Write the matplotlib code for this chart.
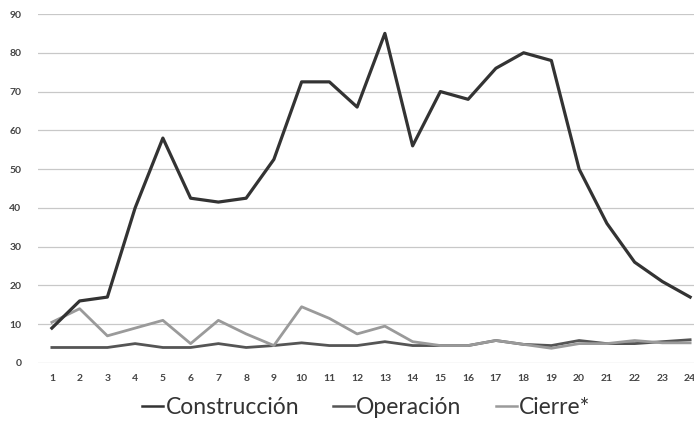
import numpy as np
import matplotlib
matplotlib.use("Agg")
import matplotlib.pyplot as plt

# Data
periodos = list(range(1, 25))
construccion = [9, 16, 17, 40, 58, 42.5, 41.5, 42.5, 52.5, 72.5, 72.5, 66,
                85, 56, 70, 68, 76, 80, 78, 50, 36, 26, 21, 17]
operacion = [4, 4, 4, 5, 4, 4, 5, 4, 4.5, 5.2, 4.5, 4.5,
             5.5, 4.5, 4.5, 4.5, 5.8, 4.8, 4.5, 5.8, 5, 5, 5.5, 6]
cierre = [10.5, 14, 7, 9, 11, 5, 11, 7.5, 4.5, 14.5, 11.5, 7.5,
          9.5, 5.5, 4.5, 4.5, 5.8, 4.8, 3.8, 5, 5, 5.8, 5.2, 5.2]
y_ticks = list(range(0, 100, 10))

plt.rcParams['font.family'] = ['Lato', 'DejaVu Sans']

fig = plt.figure(figsize=(6.94, 4.22), dpi=100)
ax = fig.add_axes([38 / 694, 59 / 422, 666 / 694, 349 / 422])

ax.plot(periodos, construccion, color='#333333', lw=2.3, label='Construcción',
        solid_joinstyle='round', zorder=3)
ax.plot(periodos, operacion, color='#555555', lw=2.0, label='Operación',
        solid_joinstyle='round', zorder=2)
ax.plot(periodos, cierre, color='#9a9a9a', lw=2.0, label='Cierre*',
        solid_joinstyle='round', zorder=2)

ax.set_xlim(0.5, 24.5)
ax.set_ylim(0, 90)
ax.set_yticks(y_ticks)
ax.set_xticks(periodos)
ax.grid(axis='y', color='#c8c8c8', lw=0.9)
ax.set_axisbelow(True)
for s in ax.spines.values():
    s.set_visible(False)
ax.tick_params(length=0, labelsize=7.5, colors='#444444', pad=8)
ax.tick_params(axis='y', pad=12)
for lab in ax.get_xticklabels() + ax.get_yticklabels():
    lab.set_fontweight('bold')

leg = fig.legend(loc='lower center', bbox_to_anchor=(0.528, -0.04), ncol=3,
                 frameon=False, fontsize=16.5, handlelength=0.9,
                 handletextpad=0.1, columnspacing=1.5, labelcolor='#333333')
for h in leg.get_lines():
    h.set_linewidth(1.8)

fig.savefig('out.png', dpi=100)
